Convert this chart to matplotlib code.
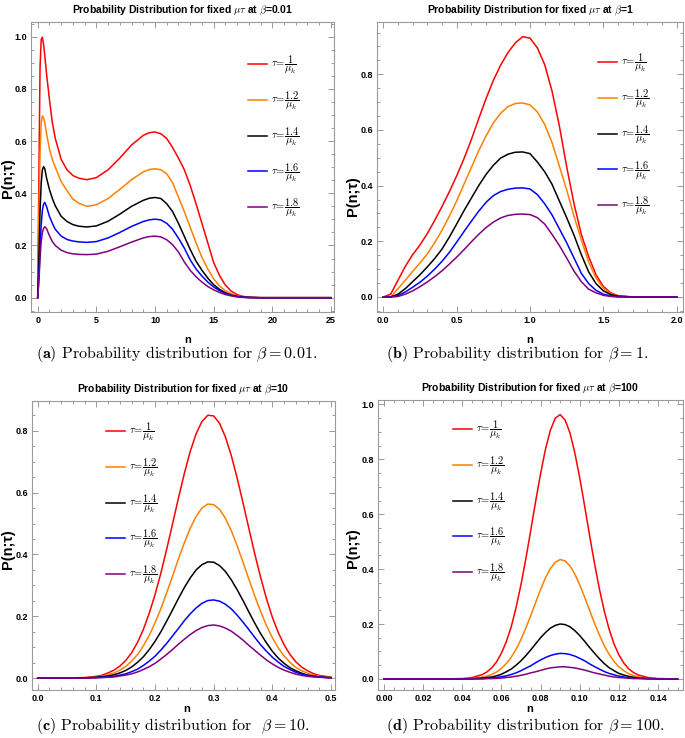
import matplotlib
matplotlib.use("Agg")
import matplotlib.pyplot as plt
from matplotlib.ticker import MultipleLocator, FormatStrFormatter

plt.rcParams["mathtext.fontset"] = "cm"
plt.rcParams["font.family"] = ["Liberation Sans Narrow", "Liberation Sans", "DejaVu Sans"]

COLORS = ["#ff0000", "#ff8000", "#000000", "#0000ff", "#800080"]
TAU_NUM = ["1", "1.2", "1.4", "1.6", "1.8"]

# ---- panel (a): beta = 0.01 ----
n_a = [0, 0.1, 0.2, 0.3, 0.4, 0.5, 0.6, 0.75, 1.0, 1.25, 1.5, 2.0, 2.5, 3.0, 3.5, 4.2,
       5, 6, 7, 8, 9, 9.5, 10, 10.5, 11, 11.5, 12, 12.5, 13, 13.5, 14, 14.5, 15, 15.5,
       16, 16.5, 17, 17.5, 18, 19, 20, 22, 25]
a_red = [0, 0.45, 0.88, 0.99, 0.998, 0.97, 0.93, 0.86, 0.76, 0.67, 0.61, 0.53, 0.49, 0.468, 0.458, 0.452,
         0.46, 0.49, 0.535, 0.585, 0.622, 0.632, 0.635, 0.628, 0.61, 0.575, 0.535, 0.49, 0.43, 0.36,
         0.285, 0.21, 0.135, 0.085, 0.048, 0.025, 0.012, 0.005, 0.002, 0, 0, 0, 0]
a_orange = [0, 0.3, 0.55, 0.67, 0.697, 0.69, 0.67, 0.63, 0.57, 0.53, 0.50, 0.445, 0.41, 0.378, 0.362, 0.35,
            0.356, 0.38, 0.415, 0.452, 0.482, 0.491, 0.494, 0.49, 0.475, 0.44, 0.385, 0.33, 0.27, 0.21,
            0.155, 0.11, 0.072, 0.045, 0.027, 0.015, 0.007, 0.003, 0.001, 0, 0, 0, 0]
a_black = [0, 0.15, 0.33, 0.44, 0.49, 0.502, 0.495, 0.46, 0.415, 0.38, 0.352, 0.312, 0.292, 0.28, 0.274, 0.271,
           0.275, 0.293, 0.32, 0.35, 0.373, 0.381, 0.384, 0.38, 0.36, 0.33, 0.285, 0.235, 0.185, 0.14,
           0.105, 0.075, 0.05, 0.032, 0.019, 0.01, 0.005, 0.002, 0.001, 0, 0, 0, 0]
a_blue = [0, 0.08, 0.19, 0.28, 0.335, 0.358, 0.365, 0.35, 0.312, 0.285, 0.262, 0.236, 0.223, 0.217, 0.214, 0.212,
          0.215, 0.229, 0.25, 0.273, 0.292, 0.298, 0.301, 0.298, 0.285, 0.262, 0.228, 0.19, 0.145, 0.11,
          0.083, 0.06, 0.041, 0.027, 0.016, 0.009, 0.004, 0.002, 0.001, 0, 0, 0, 0]
a_purple = [0, 0.06, 0.15, 0.215, 0.25, 0.265, 0.272, 0.265, 0.238, 0.215, 0.2, 0.182, 0.173, 0.168, 0.166, 0.165,
            0.167, 0.178, 0.195, 0.213, 0.229, 0.234, 0.236, 0.233, 0.222, 0.203, 0.175, 0.137, 0.105, 0.08,
            0.06, 0.043, 0.03, 0.02, 0.012, 0.007, 0.003, 0.001, 0, 0, 0, 0, 0]

# ---- panel (b): beta = 1 ----
n_b = [0, 0.05, 0.1, 0.15, 0.2, 0.25, 0.3, 0.35, 0.4, 0.45, 0.5, 0.55, 0.6, 0.65, 0.7, 0.75, 0.8,
       0.85, 0.9, 0.95, 1.0, 1.05, 1.1, 1.15, 1.2, 1.25, 1.3, 1.35, 1.4, 1.45, 1.5, 1.55, 1.6,
       1.7, 1.8, 1.9, 2.0]
b_red = [0, 0.01, 0.06, 0.11, 0.152, 0.187, 0.228, 0.275, 0.325, 0.378, 0.435, 0.497, 0.565, 0.64,
         0.712, 0.778, 0.833, 0.878, 0.913, 0.935, 0.93, 0.895, 0.835, 0.74, 0.615, 0.468, 0.335,
         0.225, 0.145, 0.08, 0.038, 0.015, 0.005, 0, 0, 0, 0]
b_orange = [0, 0, 0.03, 0.06, 0.092, 0.122, 0.155, 0.195, 0.24, 0.29, 0.345, 0.405, 0.465, 0.525,
            0.578, 0.625, 0.66, 0.684, 0.695, 0.697, 0.69, 0.665, 0.62, 0.555, 0.47, 0.385, 0.29,
            0.205, 0.125, 0.068, 0.031, 0.012, 0.004, 0, 0, 0, 0]
b_black = [0, 0, 0.01, 0.03, 0.055, 0.08, 0.108, 0.138, 0.172, 0.215, 0.262, 0.31, 0.355, 0.4, 0.44,
           0.473, 0.499, 0.513, 0.52, 0.521, 0.515, 0.485, 0.45, 0.405, 0.345, 0.285, 0.222, 0.152,
           0.09, 0.048, 0.022, 0.009, 0.003, 0, 0, 0, 0]
b_blue = [0, 0, 0.005, 0.018, 0.035, 0.053, 0.075, 0.1, 0.128, 0.16, 0.197, 0.235, 0.272, 0.308,
          0.34, 0.364, 0.379, 0.387, 0.391, 0.392, 0.388, 0.368, 0.335, 0.295, 0.245, 0.195, 0.14,
          0.085, 0.048, 0.024, 0.01, 0.004, 0.001, 0, 0, 0, 0]
b_purple = [0, 0, 0.002, 0.01, 0.022, 0.037, 0.054, 0.073, 0.094, 0.118, 0.143, 0.17, 0.198, 0.225,
            0.249, 0.269, 0.284, 0.293, 0.297, 0.298, 0.296, 0.285, 0.262, 0.225, 0.185, 0.14, 0.093,
            0.055, 0.028, 0.015, 0.006, 0.002, 0, 0, 0, 0, 0]

# ---- panel (c): beta = 10 ----
n_c = [0.0, 0.06, 0.08, 0.09, 0.1, 0.11, 0.12, 0.13, 0.14, 0.15, 0.16, 0.17, 0.18, 0.19, 0.2,
       0.21, 0.22, 0.23, 0.24, 0.25, 0.26, 0.27, 0.28, 0.29, 0.3, 0.31, 0.32, 0.33, 0.34, 0.35,
       0.36, 0.37, 0.38, 0.39, 0.4, 0.41, 0.42, 0.43, 0.44, 0.45, 0.46, 0.47, 0.48, 0.49, 0.5]
c_red = [0, 0.001, 0.002, 0.004, 0.006, 0.01, 0.017, 0.026, 0.039, 0.057, 0.082, 0.115, 0.157, 0.209,
         0.27, 0.34, 0.418, 0.5, 0.583, 0.662, 0.733, 0.79, 0.83, 0.85, 0.848, 0.824, 0.78, 0.72,
         0.647, 0.567, 0.484, 0.402, 0.326, 0.257, 0.197, 0.148, 0.108, 0.077, 0.053, 0.036, 0.024,
         0.015, 0.009, 0.006, 0.003]
c_orange = [0, 0, 0.001, 0.003, 0.004, 0.007, 0.011, 0.017, 0.026, 0.038, 0.055, 0.076, 0.104, 0.138,
            0.179, 0.225, 0.277, 0.331, 0.386, 0.438, 0.485, 0.523, 0.55, 0.563, 0.561, 0.546, 0.517,
            0.477, 0.428, 0.375, 0.32, 0.266, 0.216, 0.17, 0.131, 0.098, 0.072, 0.051, 0.035, 0.024,
            0.016, 0.01, 0.006, 0.004, 0.002]
c_black = [0, 0, 0.001, 0.002, 0.003, 0.005, 0.007, 0.011, 0.017, 0.025, 0.036, 0.051, 0.069, 0.092,
           0.119, 0.15, 0.185, 0.221, 0.258, 0.293, 0.324, 0.35, 0.367, 0.376, 0.375, 0.364, 0.345,
           0.318, 0.286, 0.251, 0.214, 0.178, 0.144, 0.114, 0.087, 0.065, 0.048, 0.034, 0.024, 0.016,
           0.01, 0.007, 0.004, 0.003, 0.002]
c_blue = [0, 0, 0.001, 0.001, 0.002, 0.003, 0.004, 0.006, 0.01, 0.014, 0.021, 0.029, 0.041, 0.055,
          0.071, 0.091, 0.113, 0.137, 0.161, 0.186, 0.208, 0.227, 0.242, 0.251, 0.253, 0.249, 0.239,
          0.224, 0.204, 0.181, 0.157, 0.132, 0.108, 0.087, 0.068, 0.052, 0.038, 0.028, 0.019, 0.013,
          0.009, 0.006, 0.004, 0.002, 0.001]
c_purple = [0, 0, 0, 0.001, 0.001, 0.002, 0.003, 0.004, 0.007, 0.01, 0.014, 0.02, 0.028, 0.037,
            0.048, 0.062, 0.077, 0.093, 0.11, 0.126, 0.141, 0.154, 0.164, 0.17, 0.172, 0.169, 0.162,
            0.152, 0.138, 0.123, 0.106, 0.09, 0.074, 0.059, 0.046, 0.035, 0.026, 0.019, 0.013, 0.009,
            0.006, 0.004, 0.003, 0.002, 0.001]

# ---- panel (d): beta = 100 ----
n_d = [0, 0.03, 0.04, 0.045, 0.05, 0.0525, 0.055, 0.0575, 0.06, 0.0625, 0.065, 0.0675, 0.07,
       0.0725, 0.075, 0.0775, 0.08, 0.0825, 0.085, 0.0875, 0.09, 0.0925, 0.095, 0.0975, 0.1,
       0.1025, 0.105, 0.1075, 0.11, 0.1125, 0.115, 0.1175, 0.12, 0.1225, 0.125, 0.1275, 0.13,
       0.135, 0.14, 0.15]
d_red = [0, 0, 0.001, 0.005, 0.015, 0.025, 0.04, 0.062, 0.094, 0.136, 0.19, 0.261, 0.344, 0.439,
         0.542, 0.648, 0.748, 0.837, 0.906, 0.95, 0.963, 0.944, 0.897, 0.824, 0.733, 0.631, 0.525,
         0.423, 0.33, 0.249, 0.182, 0.128, 0.088, 0.058, 0.037, 0.023, 0.014, 0.005, 0.001, 0]
d_orange = [0, 0, 0.001, 0.002, 0.006, 0.01, 0.016, 0.025, 0.038, 0.056, 0.079, 0.108, 0.144, 0.186,
            0.231, 0.279, 0.326, 0.368, 0.402, 0.425, 0.435, 0.43, 0.412, 0.382, 0.343, 0.298, 0.251,
            0.204, 0.161, 0.122, 0.09, 0.064, 0.044, 0.03, 0.019, 0.012, 0.007, 0.002, 0.001, 0]
d_black = [0, 0, 0, 0.001, 0.003, 0.005, 0.007, 0.011, 0.017, 0.026, 0.036, 0.05, 0.066, 0.085,
           0.106, 0.128, 0.15, 0.169, 0.185, 0.195, 0.2, 0.198, 0.19, 0.176, 0.158, 0.137, 0.115,
           0.094, 0.074, 0.056, 0.041, 0.03, 0.02, 0.014, 0.009, 0.006, 0.003, 0.001, 0, 0]
d_blue = [0, 0, 0, 0, 0.001, 0.002, 0.003, 0.005, 0.008, 0.011, 0.016, 0.022, 0.03, 0.039, 0.048,
          0.059, 0.069, 0.078, 0.085, 0.09, 0.093, 0.092, 0.089, 0.083, 0.075, 0.066, 0.055, 0.045,
          0.036, 0.027, 0.02, 0.015, 0.01, 0.007, 0.004, 0.003, 0.002, 0.001, 0, 0]
d_purple = [0, 0, 0, 0, 0, 0.001, 0.001, 0.002, 0.003, 0.005, 0.007, 0.01, 0.013, 0.017, 0.022,
            0.026, 0.031, 0.036, 0.04, 0.042, 0.044, 0.044, 0.042, 0.04, 0.036, 0.032, 0.027, 0.022,
            0.018, 0.014, 0.01, 0.007, 0.005, 0.004, 0.002, 0.001, 0.001, 0, 0, 0]

W, H = 685, 738


def add_axes_px(fig, left, right, top, bottom):
    return fig.add_axes([left / W, 1 - bottom / H, (right - left) / W, (bottom - top) / H])


def draw_panel(ax, n, series, beta_text, xlim, ylim, xmajor, xminor, xfmt,
               legend_anchor, xlabel_pos, ylabel_pos):
    for values, color, num in zip(series, COLORS, TAU_NUM):
        ax.plot(n, values, color=color, lw=1.1,
                label=r"$\tau\!=\!\dfrac{%s}{\mu_k}$" % num)

    ax.set_xlim(*xlim)
    ax.set_ylim(*ylim)
    ax.xaxis.set_major_locator(MultipleLocator(xmajor))
    ax.xaxis.set_minor_locator(MultipleLocator(xminor))
    ax.xaxis.set_major_formatter(FormatStrFormatter(xfmt))
    ax.yaxis.set_major_locator(MultipleLocator(0.2))
    ax.yaxis.set_minor_locator(MultipleLocator(0.05))
    ax.yaxis.set_major_formatter(FormatStrFormatter("%.1f"))

    ax.tick_params(which="both", direction="in", top=True, right=True,
                   color="#8c8c8c", width=0.6, labelsize=6.5, pad=3)
    ax.tick_params(which="major", length=4)
    ax.tick_params(which="minor", length=2)
    for label in ax.get_xticklabels() + ax.get_yticklabels():
        label.set_fontweight("bold")
    for spine in ax.spines.values():
        spine.set_color("#9a9a9a")
        spine.set_linewidth(0.8)

    ax.set_title(r"Probability Distribution for fixed $\mu\tau$ at $\beta$=" + beta_text,
                 fontsize=7.5, fontweight="bold", pad=6)

    # axis labels sit at fixed spots, like the original export
    ax.set_xlabel("n", fontsize=8, fontweight="bold", va="center")
    ax.xaxis.set_label_coords(*xlabel_pos)
    ax.set_ylabel("P(n;τ)", fontsize=10.5, fontweight="bold", va="center",
                  family=["Liberation Sans", "DejaVu Sans"])
    ax.yaxis.set_label_coords(*ylabel_pos)

    ax.legend(loc="upper left", bbox_to_anchor=legend_anchor, frameon=False,
              fontsize=7.5, handlelength=1.8, handletextpad=0.4, labelspacing=1.3,
              borderaxespad=0, borderpad=0)


fig = plt.figure(figsize=(W / 100, H / 100), dpi=100)

ax_a = add_axes_px(fig, 31, 334, 22, 312)
draw_panel(ax_a, n_a, [a_red, a_orange, a_black, a_blue, a_purple], "0.01",
           (-0.57, 25.26), (-0.0548, 1.0563), 5, 1, "%d",
           (0.716, 0.89), (0.516, -0.0966), (-0.075, 0.46))

ax_b = add_axes_px(fig, 377, 683, 22, 312)
draw_panel(ax_b, n_b, [b_red, b_orange, b_black, b_blue, b_purple], "1",
           (-0.043, 2.043), (-0.0539, 0.9878), 0.5, 0.1, "%.1f",
           (0.722, 0.897), (0.5, -0.0966), (-0.078, 0.40))

ax_c = add_axes_px(fig, 32, 335, 400.5, 690)
draw_panel(ax_c, n_c, [c_red, c_orange, c_black, c_blue, c_purple], "10",
           (-0.0097, 0.5068), (-0.0382, 0.8978), 0.1, 0.02, "%.1f",
           (0.244, 0.93), (0.512, -0.0656), (-0.078, 0.487))

ax_d = add_axes_px(fig, 378, 683, 400, 690)
draw_panel(ax_d, n_d, [d_red, d_orange, d_black, d_blue, d_purple], "100",
           (-0.0031, 0.1528), (-0.0405, 1.0164), 0.02, 0.005, "%.2f",
           (0.246, 0.935), (0.498, -0.0656), (-0.082, 0.488))

captions = [
    (177, 354, r"$\mathbf{(a)}$ Probability distribution for $\beta = 0.01$."),
    (517, 354, r"$\mathbf{(b)}$ Probability distribution for $\beta = 1$."),
    (173, 725.5, r"$\mathbf{(c)}$ Probability distribution for  $\beta = 10$."),
    (525, 725.5, r"$\mathbf{(d)}$ Probability distribution for $\beta = 100$."),
]
for x, y, text in captions:
    fig.text(x / W, 1 - y / H, text, ha="center", va="center", fontsize=11.5, family="cmr10")

fig.savefig("out.png", dpi=100)
